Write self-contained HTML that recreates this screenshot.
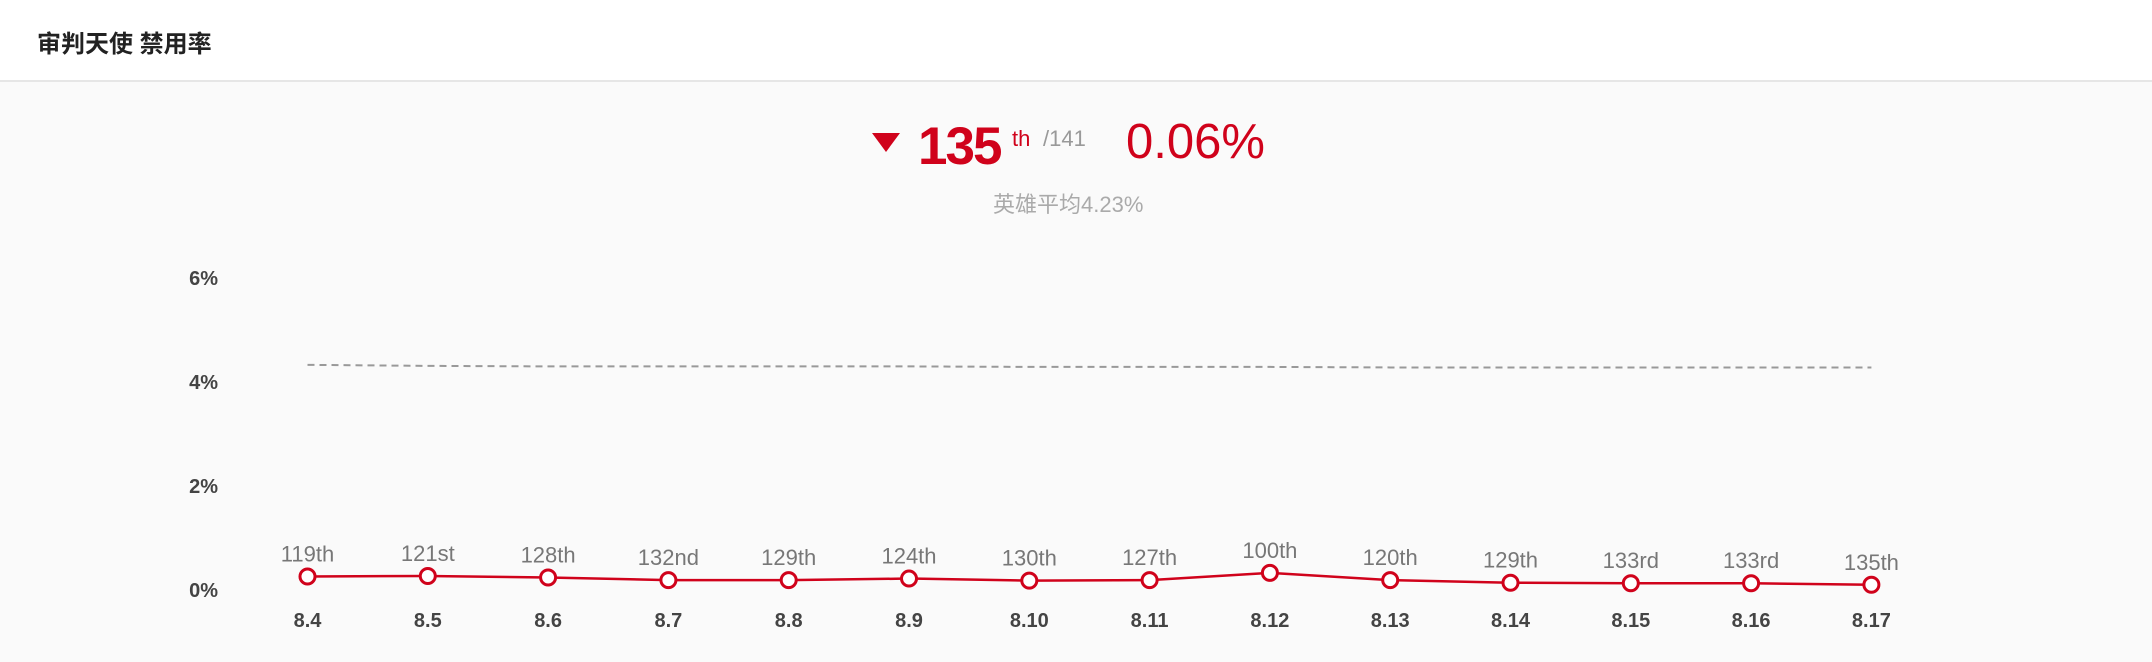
<!DOCTYPE html>
<html><head><meta charset="utf-8">
<style>
html,body{margin:0;padding:0;}
body{width:2152px;height:662px;background:#fafafa;position:relative;overflow:hidden;font-family:"Liberation Sans","Noto Sans CJK SC",sans-serif;}
#hdr{position:absolute;left:0;top:0;width:2152px;height:80px;background:#fff;border-bottom:2px solid #e6e6e6;}
#title{position:absolute;left:37px;top:24px;font-size:24px;font-weight:bold;color:#222;}
.a{position:absolute;white-space:nowrap;}
</style></head><body>
<div id="hdr"><div id="title">审判天使 禁用率</div></div>
<div class="a" style="left:872px;top:133px;width:0;height:0;border-left:14px solid transparent;border-right:14px solid transparent;border-top:19px solid #d0021b;"></div>
<div class="a" style="left:918px;top:116px;font-size:53px;font-weight:bold;color:#d0021b;letter-spacing:-2px;">135</div>
<div class="a" style="left:1012px;top:126px;font-size:22px;color:#d0021b;">th</div>
<div class="a" style="left:1043px;top:126px;font-size:22px;color:#999;">/141</div>
<div class="a" style="left:1126px;top:114px;font-size:49px;color:#d0021b;">0.06%</div>
<div class="a" style="left:993px;top:187px;font-size:22px;color:#aaa;">英雄平均4.23%</div>
<svg id="chart" width="2152" height="662" style="position:absolute;left:0;top:0;"></svg>
<script>
const categories=["8.4","8.5","8.6","8.7","8.8","8.9","8.10","8.11","8.12","8.13","8.14","8.15","8.16","8.17"];
const banRates=[0.26,0.27,0.24,0.19,0.19,0.22,0.18,0.19,0.33,0.19,0.14,0.13,0.13,0.10];
const avgRates=[4.33,4.31,4.30,4.30,4.30,4.30,4.29,4.29,4.29,4.28,4.28,4.28,4.28,4.28];
const ranks=["119th","121st","128th","132nd","129th","124th","130th","127th","100th","120th","129th","133rd","133rd","135th"];
const yTicks=[0,2,4,6];
const NS="http://www.w3.org/2000/svg";
const svg=document.getElementById('chart');
const x0=307.5,dx=120.3,yBase=590,pxPerPct=52;
const xs=i=>x0+i*dx;
const ys=v=>yBase-v*pxPerPct;
function mk(t,a){const e=document.createElementNS(NS,t);for(const k in a)e.setAttribute(k,a[k]);svg.appendChild(e);return e;}
yTicks.forEach(t=>{
  const e=mk('text',{x:218,y:ys(t)+7,'text-anchor':'end','font-size':20,'font-weight':'bold',fill:'#444','font-family':'Liberation Sans, sans-serif'});
  e.textContent=t+'%';
  
  
});
const avg=mk('polyline',{points:avgRates.map((v,i)=>xs(i)+','+ys(v)).join(' '),fill:'none',stroke:'#999','stroke-width':2,'stroke-dasharray':'7,5'});


const line=mk('polyline',{points:banRates.map((v,i)=>xs(i)+','+ys(v)).join(' '),fill:'none',stroke:'#d0021b','stroke-width':2.5});


categories.forEach((c,i)=>{
  const x=xs(i),y=ys(banRates[i]);
  const p=mk('circle',{cx:x,cy:y,r:7.5,fill:'#fff',stroke:'#d0021b','stroke-width':3});
  
  
  const r=mk('text',{x:x,y:y-15,'text-anchor':'middle','font-size':22,fill:'#777','font-family':'Liberation Sans, sans-serif'});
  r.textContent=ranks[i];
  
  
  const l=mk('text',{x:x,y:627,'text-anchor':'middle','font-size':20,'font-weight':'bold',fill:'#444','font-family':'Liberation Sans, sans-serif'});
  l.textContent=c;
  
  
});
</script>
</body></html>
